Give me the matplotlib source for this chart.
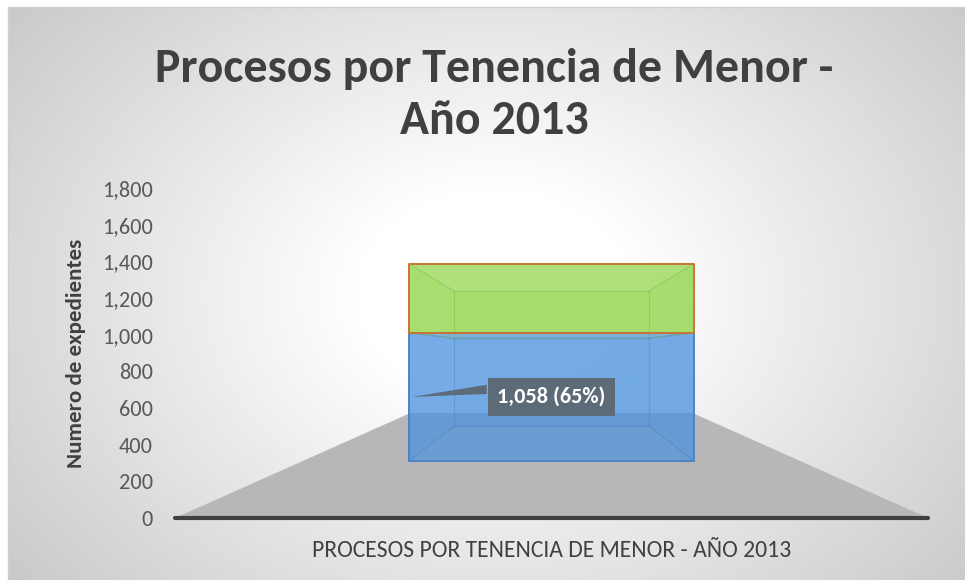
import numpy as np
import matplotlib
matplotlib.use("Agg")
import matplotlib.pyplot as plt
from matplotlib import font_manager
from matplotlib.patches import Polygon

# ---- data ----
series_names = ["Serie 1", "Serie 2"]
values = [1058, 570]
label_text = "1,058 (65%)"
category = "PROCESOS POR TENENCIA DE MENOR - AÑO 2013"
y_ticks = [0, 200, 400, 600, 800, 1000, 1200, 1400, 1600, 1800]
title = "Procesos por Tenencia de Menor -\nAño 2013"
y_label = "Numero de expedientes"

avail = {f.name for f in font_manager.fontManager.ttflist}
FONT = "Carlito" if "Carlito" in avail else "Lato"
plt.rcParams['font.family'] = [FONT, 'DejaVu Sans']

W, H = 965, 580
fig = plt.figure(figsize=(W / 100, H / 100), dpi=100)
fig.patch.set_facecolor("white")

# background radial gradient panel
bg = fig.add_axes([0, 0, 1, 1])
bg.set_xlim(0, W)
bg.set_ylim(H, 0)
bg.axis("off")
yy, xx = np.mgrid[0:H, 0:W]
cx, cy = 490, 290
r = np.sqrt(((xx - cx) / 560.0) ** 2 + ((yy - cy) / 420.0) ** 2)
v = 1.0 - 0.22 * np.clip(r - 0.25, 0, None) / 0.9
v = np.clip(v, 0.78, 1.0)
img = np.dstack([v, v, v])
bg.imshow(img, extent=(8, W, H, 7), aspect="auto", zorder=0, interpolation="bilinear")
bg.plot([8, 8, W], [H, 7, 7], color="#d0d0d0", lw=1, zorder=1)

# main axes
ax = fig.add_axes([175 / W, 62 / H, 753 / W, 330 / H])
ax.set_facecolor("none")
ax.set_xlim(0, 1)
ax.set_ylim(0, 1800)
for s in ["top", "right", "left"]:
    ax.spines[s].set_visible(False)
ax.spines["bottom"].set_color("#404040")
ax.spines["bottom"].set_linewidth(3)
ax.spines["bottom"].set_capstyle("round")
ax.set_yticks(y_ticks)
ax.set_yticklabels([f"{t:,}" for t in y_ticks], fontsize=16, color="#595959")
ax.tick_params(axis="y", length=0, pad=16)
ax.set_xticks([])
ax.set_ylabel(y_label, fontsize=16.5, fontweight="bold", color="#404040")
ax.yaxis.set_label_coords(-0.118, 0.5)
ax.set_xlabel(category, fontsize=17, color="#404040", labelpad=16)

# perspective parameters
VP = 916.0          # vanishing height in axis units
S_FRONT, S_BACK, S_FLOOR = 0.66, 0.452, 0.375
HALF_W = 0.286


def proj(s, wx, wy):
    return 0.5 + s * (wx - 0.5), VP + s * (wy - VP)


# floor
floor = [proj(1, 0, 0), proj(S_FLOOR, 0, 0), proj(S_FLOOR, 1, 0), proj(1, 1, 0)]
ax.add_patch(Polygon(floor, closed=True, facecolor="#b7b7b7", edgecolor="none", zorder=1))

fills = ["#4c93de", "#8ed444"]
edges = ["#4a84c4", "#c8762e"]
inner = ["#3f73b0", "#6f9f3a"]
base = 0
for i, val in enumerate(values):
    lo, hi = base, base + val
    x0, x1 = 0.5 - HALF_W, 0.5 + HALF_W
    fbl, fbr, ftr, ftl = (proj(S_FRONT, x0, lo), proj(S_FRONT, x1, lo),
                          proj(S_FRONT, x1, hi), proj(S_FRONT, x0, hi))
    bbl, bbr, btr, btl = (proj(S_BACK, x0, lo), proj(S_BACK, x1, lo),
                          proj(S_BACK, x1, hi), proj(S_BACK, x0, hi))
    ax.add_patch(Polygon([bbl, bbr, btr, btl], facecolor=fills[i], alpha=0.25,
                         edgecolor="none", zorder=2))
    ax.add_patch(Polygon([fbl, bbl, btl, ftl], facecolor=fills[i], alpha=0.22,
                         edgecolor="none", zorder=2))
    ax.add_patch(Polygon([fbr, bbr, btr, ftr], facecolor=fills[i], alpha=0.22,
                         edgecolor="none", zorder=2))
    ax.add_patch(Polygon([fbl, fbr, ftr, ftl], facecolor=fills[i], alpha=0.7,
                         edgecolor="none", zorder=3))
    for a, b in [(bbl, bbr), (bbr, btr), (btr, btl), (btl, bbl),
                 (fbl, bbl), (fbr, bbr), (ftr, btr), (ftl, btl)]:
        ax.plot([a[0], b[0]], [a[1], b[1]], color=inner[i], lw=0.8, alpha=0.3, zorder=3)
    base = hi

# front face outlines
base = 0
for i, val in enumerate(values):
    lo, hi = base, base + val
    x0, x1 = 0.5 - HALF_W, 0.5 + HALF_W
    pts = [proj(S_FRONT, x0, lo), proj(S_FRONT, x1, lo), proj(S_FRONT, x1, hi),
           proj(S_FRONT, x0, hi), proj(S_FRONT, x0, lo)]
    ax.plot([p[0] for p in pts], [p[1] for p in pts], color=edges[i], lw=1.4, zorder=5)
    base = hi

# data label with callout
lx, ly = proj(S_FRONT, 0.5, values[0] / 2)
tip = proj(S_FRONT, 0.5 - HALF_W, values[0] / 2)
ax.add_patch(Polygon([(tip[0] + 0.004, ly), (0.414, ly + 66), (0.414, ly + 16)],
                     facecolor="#5d6a78", edgecolor="none", zorder=6))
ax.text(lx, ly, label_text, ha="center", va="center", fontsize=16, fontweight="bold",
        color="white", zorder=7,
        bbox=dict(boxstyle="square,pad=0.42", facecolor="#5d6a78", edgecolor="none"))

fig.text(494 / W, 1 - 95 / H, title, ha="center", va="center", fontsize=34.5,
         fontweight="bold", color="#404040", linespacing=1.32)

fig.savefig("out.png", dpi=100)
